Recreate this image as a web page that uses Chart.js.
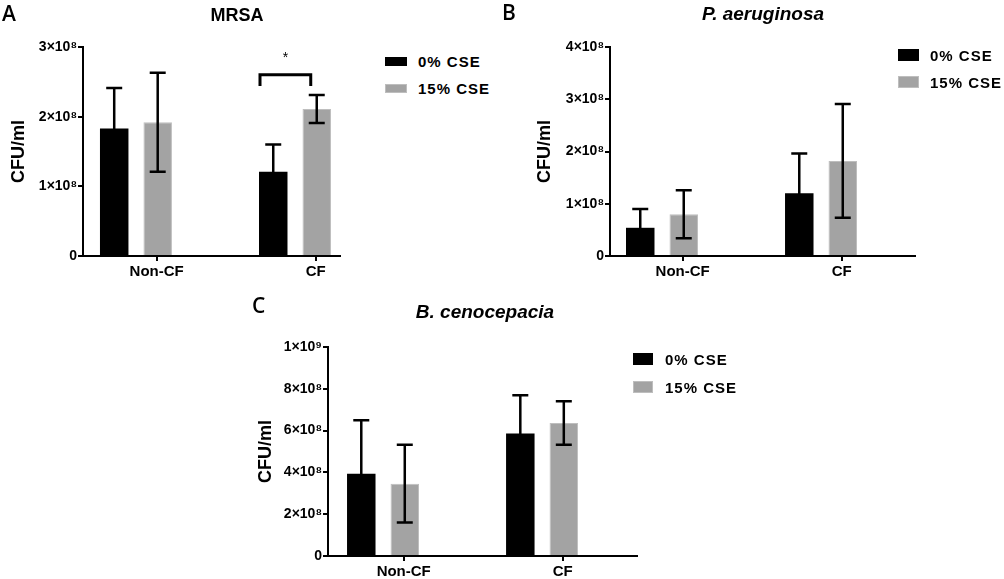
<!DOCTYPE html>
<html lang="en">
<head>
  <meta charset="UTF-8">
  <title>CFU/ml – MRSA, P. aeruginosa, B. cenocepacia</title>
  <script src="https://cdn.jsdelivr.net/npm/chart.js"></script>
  <style>
    body {
      margin: 0;
      width: 1004px;
      height: 579px;
      overflow: hidden;
      background: #fff;
      position: relative;
      font-family: 'Liberation Sans', Arial, sans-serif;
      color: #000;
    }
    canvas { position: absolute; }
    .txt {
      position: absolute;
      white-space: nowrap;
      line-height: 1;
      transform: translate(-50%, -50%);
    }
    .letter { font-family: 'Open Sans', sans-serif; font-size: 21px; font-weight: 600; transform: translate(0, -50%); }
    .title { font-weight: bold; font-size: 18px; }
    .title.it { font-style: italic; font-size: 19px; }
    .legend { position: absolute; width: 120px; }
    .legend .sw { position: absolute; left: 0; }
    .legend .lab {
      position: absolute;
      white-space: nowrap;
      font-weight: bold;
      font-size: 15px;
      letter-spacing: 1px;
      line-height: 1;
      transform: translateY(-50%);
    }
  </style>
</head>
<body>
  <canvas id="chartA" width="350" height="290" style="left:0;top:0"></canvas>
  <canvas id="chartB" width="430" height="290" style="left:500px;top:0"></canvas>
  <canvas id="chartC" width="400" height="289" style="left:250px;top:290px"></canvas>

  <div class="txt letter" style="left:2px;top:13px">A</div>
  <div class="txt letter" style="left:502px;top:12px">B</div>
  <div class="txt letter" style="left:252px;top:305px">C</div>

  <div class="txt title" style="left:237px;top:15px">MRSA</div>
  <div class="txt title it" style="left:763px;top:13px">P. aeruginosa</div>
  <div class="txt title it" style="left:485px;top:311px">B. cenocepacia</div>

  <div id="legendA" class="legend"></div>
  <div id="legendB" class="legend"></div>
  <div id="legendC" class="legend"></div>

  <script>
    // categories and series
    const categories = ['Non-CF', 'CF'];
    const seriesNames = ['0% CSE', '15% CSE'];

    // MRSA (CFU/ml)
    const mrsa0 = [1.83e8, 1.21e8];
    const mrsa0Sd = [0.58e8, 0.39e8];
    const mrsa15 = [1.92e8, 2.11e8];
    const mrsa15Sd = [0.71e8, 0.20e8];

    // P. aeruginosa
    const pa0 = [0.54e8, 1.20e8];
    const pa0Sd = [0.36e8, 0.76e8];
    const pa15 = [0.80e8, 1.82e8];
    const pa15Sd = [0.46e8, 1.09e8];

    // B. cenocepacia
    const bc0 = [3.94e8, 5.86e8];
    const bc0Sd = [2.55e8, 1.83e8];
    const bc15 = [3.46e8, 6.36e8];
    const bc15Sd = [1.86e8, 1.04e8];

    // y tick values
    const ticksA = [0, 1e8, 2e8, 3e8];
    const ticksB = [0, 1e8, 2e8, 3e8, 4e8];
    const ticksC = [0, 2e8, 4e8, 6e8, 8e8, 1e9];

    const FONT = "'Liberation Sans', Arial, sans-serif";
    const labelShift = 0.13; // category labels sit a bit right of the bar groups
    const sup = { 8: '\u2078', 9: '\u2079' };

    function sci(v) {
      if (v === 0) return '0';
      const e = Math.floor(Math.log10(v) + 1e-9);
      const m = Math.round(v / Math.pow(10, e));
      return m + '\u00d710' + sup[e];
    }

    // error bars drawn from the bar elements and the y scale
    const errorBars = {
      id: 'errorBars',
      afterDatasetsDraw(chart) {
        const ctx = chart.ctx;
        const y = chart.scales.y;
        ctx.save();
        ctx.strokeStyle = '#000';
        ctx.lineWidth = 2.5;
        chart.data.datasets.forEach((ds, i) => {
          chart.getDatasetMeta(i).data.forEach((bar, j) => {
            const v = ds.data[j].y, e = ds.errors[j];
            const top = y.getPixelForValue(v + e);
            const bot = y.getPixelForValue(Math.max(v - e, 0));
            ctx.beginPath();
            ctx.moveTo(bar.x, top); ctx.lineTo(bar.x, bot);
            ctx.moveTo(bar.x - 8, top); ctx.lineTo(bar.x + 8, top);
            ctx.moveTo(bar.x - 8, bot); ctx.lineTo(bar.x + 8, bot);
            ctx.stroke();
          });
        });
        ctx.restore();
      }
    };

    // significance bracket for MRSA CF
    const sigBracket = {
      id: 'sigBracket',
      afterDatasetsDraw(chart, args, opts) {
        if (!opts.show) return;
        const ctx = chart.ctx;
        const y = chart.scales.y;
        const b0 = chart.getDatasetMeta(0).data[opts.index];
        const b1 = chart.getDatasetMeta(1).data[opts.index];
        const x0 = b0.x - b0.width / 2 + 1;
        const x1 = b1.x - 6;
        const yTop = y.getPixelForValue(opts.level);
        const yLeg = y.getPixelForValue(opts.leg);
        ctx.save();
        ctx.strokeStyle = '#000';
        ctx.lineWidth = 3;
        ctx.beginPath();
        ctx.moveTo(x0, yLeg); ctx.lineTo(x0, yTop); ctx.lineTo(x1, yTop); ctx.lineTo(x1, yLeg);
        ctx.stroke();
        ctx.fillStyle = '#000';
        ctx.font = '14px ' + FONT;
        ctx.textAlign = 'center';
        ctx.textBaseline = 'middle';
        ctx.fillText('*', (x0 + x1) / 2, y.getPixelForValue(opts.star) + 3);
        ctx.restore();
      }
    };

    function makePanel(id, p) {
      const ctx = document.getElementById(id).getContext('2d');
      return new Chart(ctx, {
        type: 'bar',
        data: {
          datasets: [
            {
              label: seriesNames[0],
              data: p.s0.map((v, i) => ({ x: i, y: v })),
              errors: p.e0,
              backgroundColor: '#000',
              borderWidth: 0
            },
            {
              label: seriesNames[1],
              data: p.s1.map((v, i) => ({ x: i, y: v })),
              errors: p.e1,
              backgroundColor: '#a3a3a3',
              borderColor: '#bebebe',
              borderWidth: 1
            }
          ]
        },
        options: {
          responsive: false,
          animation: false,
          devicePixelRatio: 1,
          categoryPercentage: 0.547,
          barPercentage: 0.655,
          layout: { padding: p.padding },
          plugins: {
            legend: { display: false },
            tooltip: { enabled: false },
            sigBracket: p.bracket || { show: false }
          },
          scales: {
            x: {
              type: 'linear',
              min: p.xMin,
              max: p.xMax,
              offset: false,
              afterBuildTicks: s => { s.ticks = categories.map((c, i) => ({ value: i + labelShift })); },
              afterFit: s => { s.height = p.xHeight; },
              ticks: {
                callback: v => categories[Math.round(v - labelShift)],
                color: '#000',
                font: { family: FONT, size: 15, weight: 'bold' },
                padding: 2,
                maxRotation: 0,
                autoSkip: false
              },
              grid: { offset: false, drawOnChartArea: false, drawTicks: true, tickLength: 5, color: '#000', lineWidth: 2 },
              border: { display: true, color: '#000', width: 2 }
            },
            y: {
              min: 0,
              max: p.yTicks[p.yTicks.length - 1],
              afterBuildTicks: s => { s.ticks = p.yTicks.map(v => ({ value: v })); },
              afterFit: s => { s.width = p.yWidth; },
              ticks: {
                callback: v => sci(v),
                color: '#000',
                font: { family: FONT, size: 14, weight: 'bold' },
                padding: 1
              },
              title: {
                display: true,
                text: 'CFU/ml',
                color: '#000',
                font: { family: FONT, size: 18, weight: 'bold' },
                padding: { top: p.titlePad, bottom: 0 }
              },
              grid: { drawOnChartArea: false, drawTicks: true, tickLength: 5, color: '#000', lineWidth: 2 },
              border: { display: true, color: '#000', width: 2 }
            }
          }
        },
        plugins: [errorBars, sigBracket]
      });
    }

    makePanel('chartA', {
      s0: mrsa0, e0: mrsa0Sd, s1: mrsa15, e1: mrsa15Sd,
      yTicks: ticksA, xMin: -0.333, xMax: 1.283,
      yWidth: 83, xHeight: 30, titlePad: 8,
      padding: { left: 0, top: 47, right: 10, bottom: 4 },
      bracket: { show: true, index: 1, level: 2.6e8, leg: 2.44e8, star: 2.88e8 }
    });

    makePanel('chartB', {
      s0: pa0, e0: pa0Sd, s1: pa15, e1: pa15Sd,
      yTicks: ticksB, xMin: -0.327, xMax: 1.591,
      yWidth: 110, xHeight: 30, titlePad: 34,
      padding: { left: 0, top: 47, right: 15, bottom: 4 }
    });

    makePanel('chartC', {
      s0: bc0, e0: bc0Sd, s1: bc15, e1: bc15Sd,
      yTicks: ticksC, xMin: -0.346, xMax: 1.597,
      yWidth: 78, xHeight: 22, titlePad: 5,
      padding: { left: 0, top: 57, right: 13, bottom: 1 }
    });

    // legends
    function makeLegend(id, lg) {
      const el = document.getElementById(id);
      el.style.left = lg.x + 'px';
      el.style.top = '0px';
      const colors = [['#000', '#000'], ['#a3a3a3', '#bebebe']];
      seriesNames.forEach((name, i) => {
        const cy = lg.rows[i];
        const sw = document.createElement('div');
        sw.className = 'sw';
        sw.style.top = (cy - lg.h / 2) + 'px';
        sw.style.width = (lg.w - 2) + 'px';
        sw.style.height = (lg.h - 2) + 'px';
        sw.style.background = colors[i][0];
        sw.style.border = '1px solid ' + colors[i][1];
        el.appendChild(sw);
        const lab = document.createElement('div');
        lab.className = 'lab';
        lab.style.left = lg.textDx + 'px';
        lab.style.top = cy + 'px';
        lab.textContent = name;
        el.appendChild(lab);
      });
    }

    makeLegend('legendA', { x: 385, rows: [61, 88], w: 22, h: 9, textDx: 33 });
    makeLegend('legendB', { x: 898, rows: [54.5, 82], w: 21, h: 12, textDx: 32 });
    makeLegend('legendC', { x: 633, rows: [359, 387], w: 20, h: 12, textDx: 32 });
  </script>
</body>
</html>
